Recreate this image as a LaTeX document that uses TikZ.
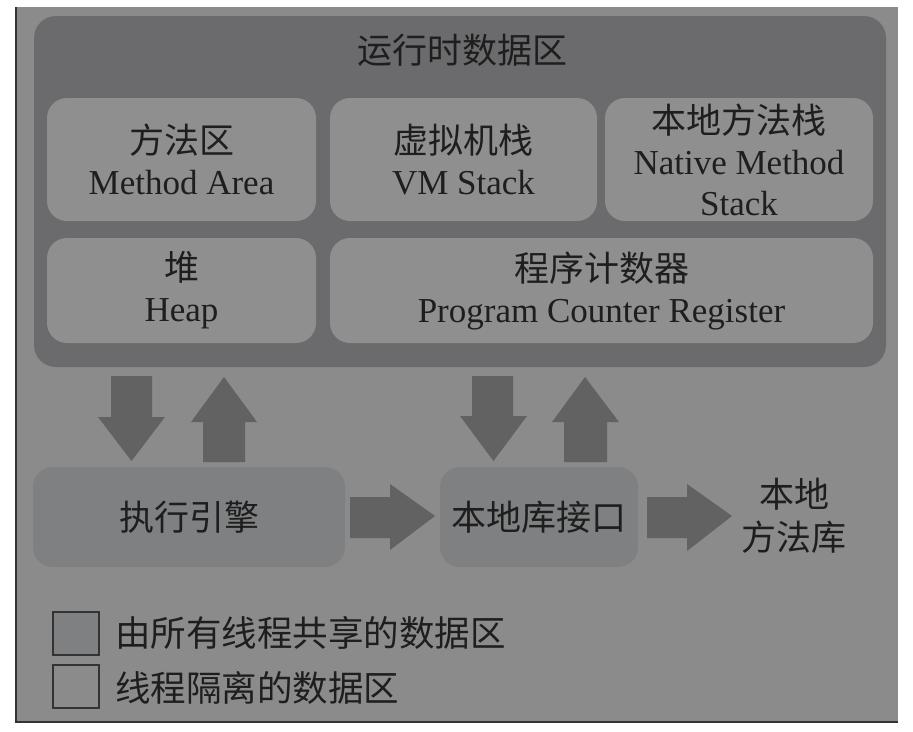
\documentclass[tikz,border=0pt]{standalone}
\usepackage{fontspec}
\setmainfont{Liberation Serif}
\newfontfamily\cjk{Noto Sans CJK SC}
\definecolor{outer}{HTML}{8B8B8B}
\definecolor{panel}{HTML}{6B6B6D}
\definecolor{inner}{HTML}{8F8F8F}
\definecolor{lowbox}{HTML}{7F8081}
\definecolor{arrowc}{HTML}{626262}
\definecolor{ink}{HTML}{1E1E1E}
\definecolor{edge}{HTML}{333333}
\tikzset{
  box/.style={rounded corners=20pt, fill=inner, draw=none, inner sep=0pt, align=center, text=ink, font=\fontsize{35}{41}\selectfont},
  lowbx/.style={rounded corners=20pt, fill=lowbox, draw=none, inner sep=0pt, align=center, text=ink, font=\fontsize{35}{41}\selectfont\cjk},
  blk/.style={fill=arrowc, draw=none},
  lbl/.style={text=ink, inner sep=0pt, align=center, font=\fontsize{35}{43}\selectfont\cjk},
  legbox/.style={draw=edge, line width=1.5pt, minimum width=46pt, minimum height=43pt, inner sep=0pt},
}
\begin{document}
\begin{tikzpicture}[x=1pt,y=-1pt]
\useasboundingbox (0,0) rectangle (913,731);
\fill[white] (0,0) rectangle (913,731);
\fill[outer] (16,7) rectangle (898,722);
\draw[edge, line width=2pt] (16,7) -- (16,722) -- (898,722);

% runtime data area panel
\node[fill=panel, rounded corners=22pt, minimum width=852pt, minimum height=351pt, inner sep=0pt] (panel) at (460,191.5) {};
\node[lbl] (title) at (462,50) {运行时数据区};

\node[box, minimum width=269pt, minimum height=123pt] (method) at (181.5,159.5) {{\cjk 方法区}\\Method Area};
\node[box, minimum width=267pt, minimum height=123pt] (vm) at (463.5,159.5) {{\cjk 虚拟机栈}\\VM Stack};
\node[box, minimum width=268pt, minimum height=123pt] (native) at (739,159.5) {{\cjk 本地方法栈}\\Native Method\\Stack};
\node[box, minimum width=269pt, minimum height=105pt] (heap) at (181.5,290.5) {{\cjk 堆}\\Heap};
\node[box, minimum width=543pt, minimum height=105pt] (pc) at (601.5,290.5) {{\cjk 程序计数器}\\Program Counter Register};

% bottom row
\node[lowbx, minimum width=312pt, minimum height=100pt] (engine) at (189,517) {执行引擎};
\node[lowbx, minimum width=198pt, minimum height=100pt] (nif) at (539,517) {本地库接口};
\node[lbl] (nlib) at (794,516) {本地\\方法库};

% block arrows
\fill[blk] (111,376) -- (152,376) -- (152,417) -- (165,417) -- (131.5,461) -- (98,417) -- (111,417) -- cycle;
\fill[blk] (203,462) -- (245,462) -- (245,422) -- (257,422) -- (224,377) -- (191,422) -- (203,422) -- cycle;
\fill[blk] (472,376) -- (513,376) -- (513,416) -- (527,416) -- (493.5,461) -- (460,416) -- (472,416) -- cycle;
\fill[blk] (564,462) -- (607,462) -- (607,422) -- (619,422) -- (585,377) -- (552,422) -- (564,422) -- cycle;
\fill[blk] (350,497) -- (390,497) -- (390,484) -- (435,516) -- (390,550) -- (390,538) -- (350,538) -- cycle;
\fill[blk] (647,497) -- (687,497) -- (687,484) -- (732,516) -- (687,551) -- (687,538) -- (647,538) -- cycle;

% legend
\node[legbox, fill=lowbox] (leg1) at (76,633.5) {};
\node[legbox, fill=outer] (leg2) at (76,686.5) {};
\node[lbl, anchor=west, font=\fontsize{35.5}{43}\selectfont\cjk] (leg1t) at (115,633) {由所有线程共享的数据区};
\node[lbl, anchor=west, font=\fontsize{35.5}{43}\selectfont\cjk] (leg2t) at (115,688) {线程隔离的数据区};
\end{tikzpicture}
\end{document}
